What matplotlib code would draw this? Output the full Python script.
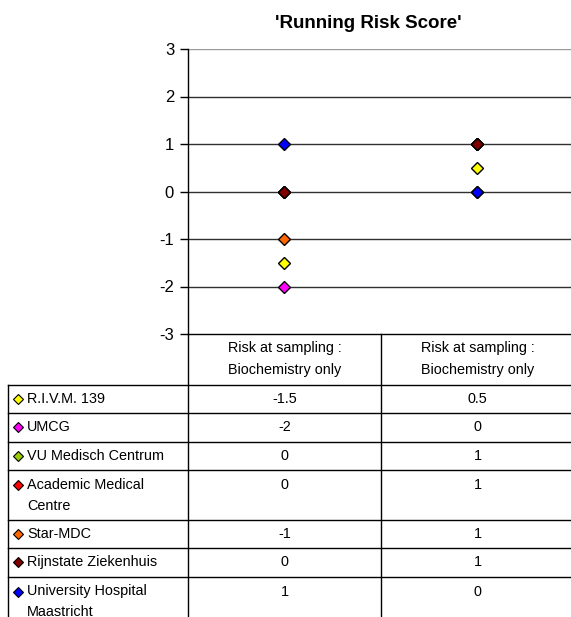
import matplotlib
matplotlib.use("Agg")
import matplotlib.pyplot as plt

plt.rcParams['font.family'] = ['Liberation Sans', 'DejaVu Sans']

# Data
categories = ["Risk at sampling :\nBiochemistry only", "Risk at sampling :\nBiochemistry only"]
series_names = ["R.I.V.M. 139", "UMCG", "VU Medisch Centrum", "Academic Medical\nCentre",
                "Star-MDC", "Rijnstate Ziekenhuis", "University Hospital\nMaastricht"]
series_values = [
    [-1.5, 0.5],
    [-2, 0],
    [0, 1],
    [0, 1],
    [-1, 1],
    [0, 1],
    [1, 0],
]
series_colors = ["#FFFF00", "#FF00FF", "#99CC00", "#FF0000", "#FF6600", "#800000", "#0000FF"]
y_ticks = [-3, -2, -1, 0, 1, 2, 3]
title = "'Running Risk Score'"

W, H = 571, 617
fig = plt.figure(figsize=(W / 100, H / 100), dpi=100)

# Plot area (pixel geometry)
ax_l, ax_r, ax_t, ax_b = 188, 574, 49, 334
ax = fig.add_axes([ax_l / W, 1 - ax_b / H, (ax_r - ax_l) / W, (ax_b - ax_t) / H])
ax.set_xlim(-0.5, len(categories) - 0.5)
ax.set_ylim(min(y_ticks), max(y_ticks))
ax.set_yticks(y_ticks)
ax.set_yticklabels([str(t) for t in y_ticks], fontsize=12)
ax.tick_params(axis='y', direction='out', length=6, width=1, pad=4, color='black')
ax.set_xticks([])
for yv in y_ticks[1:]:
    ax.axhline(yv, color='#9a9a9a' if yv == max(y_ticks) else '#303030', lw=1, zorder=1)
for side in ('top', 'right'):
    ax.spines[side].set_visible(False)
ax.spines['left'].set_linewidth(1)
ax.spines['bottom'].set_linewidth(1)

xs = list(range(len(categories)))
for vals, col in zip(series_values, series_colors):
    ax.plot(xs, vals, linestyle='none', marker='D', markersize=6.6,
            markerfacecolor=col, markeredgecolor='black', markeredgewidth=1,
            zorder=3, clip_on=False)

fig.text(368 / W, 1 - 24 / H, title, ha='center', va='center',
         fontsize=13.5, fontweight='bold')

# Data table below the plot, drawn in pixel coordinates
tb = fig.add_axes([0, 0, 1, 1], facecolor='none')
tb.set_xlim(0, W)
tb.set_ylim(H, 0)
tb.axis('off')

col_x = [ax_l, (ax_l + ax_r) / 2, ax_r + 10]
col_centers = [ax.transData.transform((x, 0))[0] for x in xs]
left_x = 8
head_top, head_bot = ax_b, 385
row_h1, row_h2 = 28.3, 50
fs = 10.4

lc = 'black'
lw = 1
# header row
tb.plot([col_x[1], col_x[1]], [head_top, H + 5], color=lc, lw=lw)
tb.plot([ax_l, ax_l], [head_top, H + 5], color=lc, lw=lw)
tb.plot([left_x, left_x], [head_bot, H + 5], color=lc, lw=lw)
for cx, cat in zip(col_centers, categories):
    l1, l2 = cat.split("\n")
    tb.text(cx, 348, l1, ha='center', va='center', fontsize=fs)
    tb.text(cx, 370, l2, ha='center', va='center', fontsize=fs)

y = head_bot
tb.plot([left_x, W + 5], [y, y], color=lc, lw=lw)
for name, vals, col in zip(series_names, series_values, series_colors):
    two = "\n" in name
    h = row_h2 if two else row_h1
    first = y + 15 if two else y + h / 2
    tb.plot([18], [first], linestyle='none', marker='D', markersize=5,
            markerfacecolor=col, markeredgecolor='black', markeredgewidth=0.8)
    for i, line in enumerate(name.split("\n")):
        tb.text(27, first + 21 * i, line, ha='left', va='center', fontsize=fs)
    for cx, v in zip(col_centers, vals):
        tb.text(cx, first, f"{v:g}", ha='center', va='center', fontsize=fs)
    y += h
    tb.plot([left_x, W + 5], [y, y], color=lc, lw=lw)

fig.savefig("out.png", dpi=100)
